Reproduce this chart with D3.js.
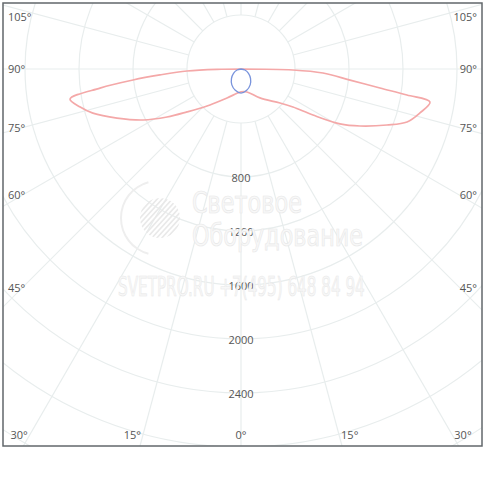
<!DOCTYPE html>
<html>
<head>
<meta charset="utf-8">
<script src="https://cdn.jsdelivr.net/npm/d3@7"></script>
<style>
  body { margin: 0; background: #fff; }
  svg { display: block; }
</style>
</head>
<body>
<div id="chart"></div>
<script>
'use strict';

// Intensity rings (cd) and the ones that get a label
const ringValues = [400, 800, 1200, 1600, 2000, 2400, 2800, 3200, 3600];
const ringLabels = [800, 1200, 1600, 2000, 2400];

// Spokes every 15 degrees, labelled ones on the frame
const spokeAngles = d3.range(0, 360, 15);
const sideLabels = [45, 60, 75, 90, 105];
const bottomLabels = [0, 15, 30];

// Red plane (negative angles = left half)
const redAngles = [-90, -89.3, -87.9, -85.8, -84.2, -82.3, -80, -76.7, -73.4, -68.4, -62.5, -57, -51.5, -42.6, -25.8,
  0, 14.6, 33.2, 48.9, 53.8, 57.4, 61, 64.4, 69, 72.3, 76.2, 80.1, 81.1, 82.2, 84.2, 87.2, 88.9, 90];
const redValues = [0, 178, 400, 602, 804, 1054, 1286, 1224, 1145, 988, 818, 653, 511, 372, 238,
  170, 176, 256, 383, 477, 633, 838, 977, 1158, 1291, 1365, 1421, 1244, 1039, 812, 608, 385, 0];

// Blue plane
const blueAngles = [-90, -75, -60, -45, -30, -15, 0, 15, 30, 45, 60, 75, 90];
const blueValues = [0, 30, 64, 100, 136, 163, 178, 163, 136, 100, 64, 30, 0];

// Watermark lines
const watermarkLines = ['Световое', 'Оборудование', 'SVETPRO.RU +7(495) 648 84 94'];

const width = 485;
const height = 485;
const frame = { x: 3, y: 3, w: 479, h: 443 };
const cx = 241;
const cy = 69;

const r = d3.scaleLinear().domain([0, 400]).range([0, 54]);
const rad = (deg) => deg * Math.PI / 180;

const svg = d3.select('#chart')
  .append('svg')
  .attr('width', width)
  .attr('height', height);

const defs = svg.append('defs');
defs.append('clipPath')
  .attr('id', 'frame-clip')
  .append('rect')
  .attr('x', frame.x)
  .attr('y', frame.y)
  .attr('width', frame.w)
  .attr('height', frame.h);
defs.append('clipPath')
  .attr('id', 'logo-clip')
  .append('circle').attr('cx', 160).attr('cy', 218).attr('r', 20);

const plot = svg.append('g').attr('clip-path', 'url(#frame-clip)');
const g = plot.append('g').attr('transform', `translate(${cx},${cy})`);

// grid rings
g.selectAll('circle.ring')
  .data(ringValues)
  .join('circle')
  .attr('class', 'ring')
  .attr('r', (d) => r(d))
  .attr('fill', 'none')
  .attr('stroke', '#e8eded')
  .attr('stroke-width', 1.2);

// spokes start at the first ring; angle measured from nadir
g.selectAll('line.spoke')
  .data(spokeAngles)
  .join('line')
  .attr('class', 'spoke')
  .attr('x1', (d) => r(400) * Math.sin(rad(d)))
  .attr('y1', (d) => r(400) * Math.cos(rad(d)))
  .attr('x2', (d) => r(4000) * Math.sin(rad(d)))
  .attr('y2', (d) => r(4000) * Math.cos(rad(d)))
  .attr('stroke', '#e8eded')
  .attr('stroke-width', 1.2);

// faint watermark
const wm = svg.append('g');
wm.append('path')
  .attr('d', d3.arc()({ innerRadius: 36, outerRadius: 38, startAngle: rad(195), endAngle: rad(345) }))
  .attr('transform', 'translate(158,218)')
  .attr('fill', '#eeeeee');
wm.append('g').attr('clip-path', 'url(#logo-clip)')
  .selectAll('line')
  .data(d3.range(-30, 31, 5))
  .join('line')
  .attr('x1', (d) => 140 + d)
  .attr('y1', 240)
  .attr('x2', (d) => 180 + d)
  .attr('y2', 196)
  .attr('stroke', '#e9e9e9')
  .attr('stroke-width', 1.6);

const wmBoxes = [
  { x: 192, y: 213, s: 30, w: 110 },
  { x: 192, y: 246, s: 30, w: 171 },
  { x: 118, y: 296, s: 26, w: 247 },
];
wm.selectAll('text')
  .data(watermarkLines)
  .join('text')
  .attr('font-family', 'DejaVu Sans, sans-serif')
  .attr('font-size', (d, i) => wmBoxes[i].s)
  .attr('fill', '#f8f8f8')
  .attr('stroke', '#e8e8e8')
  .attr('stroke-width', 0.7)
  .text((d) => d)
  .attr('transform', function (d, i) {
    // squeeze each line into the width it has in the picture
    const box = wmBoxes[i];
    const sx = box.w / this.getComputedTextLength();
    return `translate(${box.x},${box.y}) scale(${sx},1)`;
  });

// curves
const radial = d3.lineRadial()
  .angle((d) => Math.PI - rad(d[0]))
  .radius((d) => r(d[1]))
  .curve(d3.curveCatmullRom.alpha(0.5));

g.append('path')
  .attr('d', radial(d3.zip(redAngles, redValues)))
  .attr('fill', 'none')
  .attr('stroke', '#f4a8a8')
  .attr('stroke-width', 1.7);

g.append('path')
  .attr('d', radial(d3.zip(blueAngles, blueValues)))
  .attr('fill', 'none')
  .attr('stroke', '#7893dc')
  .attr('stroke-width', 1.3);

// ring labels
const labelFont = "'Open Sans', 'DejaVu Sans', sans-serif";
g.selectAll('text.ring-label')
  .data(ringLabels)
  .join('text')
  .attr('class', 'ring-label')
  .attr('x', 0)
  .attr('y', (d) => r(d) + 1)
  .attr('dy', '0.35em')
  .attr('text-anchor', 'middle')
  .attr('font-family', labelFont)
  .attr('font-size', 11)
  .attr('fill', '#555')
  .text((d) => d);

// angle labels along the sides
const sideY = (a) => Math.max(17, cy + (cx - 22) * Math.cos(rad(a)) / Math.sin(rad(a)));
const sideData = sideLabels.flatMap((a) => [{ a, side: -1 }, { a, side: 1 }]);
svg.selectAll('text.side-label')
  .data(sideData)
  .join('text')
  .attr('class', 'side-label')
  .attr('x', (d) => d.side < 0 ? 8 : 477)
  .attr('y', (d) => sideY(d.a))
  .attr('dy', '0.35em')
  .attr('text-anchor', (d) => d.side < 0 ? 'start' : 'end')
  .attr('font-family', labelFont)
  .attr('font-size', 11)
  .attr('fill', '#555')
  .text((d) => `${d.a}°`);

// angle labels along the bottom
const bottomY = 435;
const bottomData = bottomLabels.flatMap((a) => a === 0 ? [{ a, side: 0 }] : [{ a, side: -1 }, { a, side: 1 }]);
svg.selectAll('text.bottom-label')
  .data(bottomData)
  .join('text')
  .attr('class', 'bottom-label')
  .attr('x', (d) => {
    const dx = (bottomY - cy) * Math.tan(rad(d.a));
    return cx + d.side * dx + d.side * 2;
  })
  .attr('y', bottomY)
  .attr('dy', '0.35em')
  .attr('text-anchor', (d) => d.side < 0 ? 'end' : d.side > 0 ? 'start' : 'middle')
  .attr('font-family', labelFont)
  .attr('font-size', 11)
  .attr('fill', '#555')
  .text((d) => `${d.a}°`);

// frame
svg.append('rect')
  .attr('x', frame.x)
  .attr('y', frame.y)
  .attr('width', frame.w)
  .attr('height', frame.h)
  .attr('fill', 'none')
  .attr('stroke', '#62676b')
  .attr('stroke-width', 1.5);
</script>
</body>
</html>
